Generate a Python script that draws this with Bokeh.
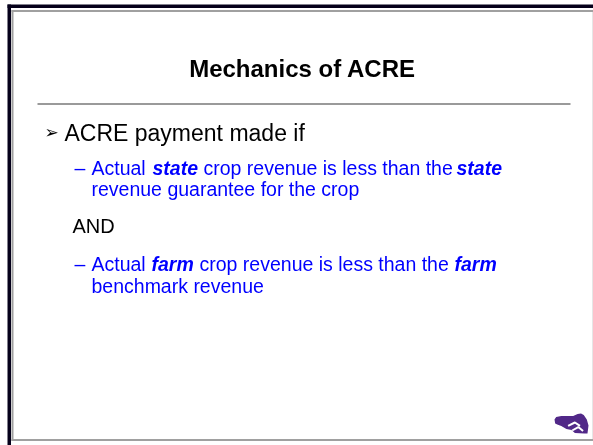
from bokeh.plotting import figure
from bokeh.models import Range1d, ColumnDataSource
from bokeh.core.properties import value
from bokeh.embed import file_html
from bokeh.resources import INLINE

# ---- slide content ----
title_text = "Mechanics of ACRE"
main_bullet = "ACRE payment made if"
sub1_segments = ["Actual", "state", "crop revenue is less than the", "state"]
sub1_styles = ["normal", "bold italic", "normal", "bold italic"]
sub1_line2 = "revenue guarantee for the crop"
connector = "AND"
sub2_segments = ["Actual", "farm", "crop revenue is less than the", "farm"]
sub2_styles = ["normal", "bold italic", "normal", "bold italic"]
sub2_line2 = "benchmark revenue"

FONT = value("Liberation Sans")
BLUE = "#0000FF"
SUB = "19.5px"

p = figure(width=593, height=445, x_range=Range1d(0, 593), y_range=Range1d(445, 0),
           output_backend="svg", toolbar_location=None, min_border=0,
           x_axis_location=None, y_axis_location=None)
p.grid.visible = False
p.outline_line_color = None
p.background_fill_color = "white"
p.border_fill_color = "white"
p.styles = {"position": "fixed", "left": "0px", "top": "0px"}

# ---- frame ----
p.quad(left=[7], right=[10.5], top=[4], bottom=[445], fill_color="#05001a", line_color=None)
p.quad(left=[7], right=[593], top=[4], bottom=[7.5], fill_color="#05001a", line_color=None)
p.quad(left=[11], right=[13], top=[9.5], bottom=[440.5], fill_color="#a0a0a0", line_color=None)
p.quad(left=[11], right=[593], top=[9.5], bottom=[11.5], fill_color="#a0a0a0", line_color=None)
p.quad(left=[11], right=[593], top=[438.5], bottom=[440.5], fill_color="#a0a0a0", line_color=None)
p.quad(left=[591.5], right=[593], top=[11.5], bottom=[438.5], fill_color="#e6e6e6", line_color=None)

# title + rule
p.text(x=[302], y=[68], text=[title_text], text_font=FONT, text_font_size="24px",
       text_font_style="bold", text_color="black", text_align="center", text_baseline="alphabetic")
p.segment(x0=[37], y0=[103.5], x1=[570], y1=[103.5], line_color="#9a9a9a", line_width=2)

# main bullet
p.text(x=[44], y=[131], text=["\u27a2"], text_font=value("DejaVu Sans"), text_font_size="17px",
       text_color="black", text_baseline="alphabetic")
p.text(x=[64], y=[132], text=[main_bullet], text_font=FONT, text_font_size="23px",
       text_color="black", text_baseline="alphabetic")

# sub bullet 1
y1, y1b = 167, 188
seg_x1 = [91, 152, 203, 456]
p.text(x=[74], y=[y1], text=["\u2013"], text_font=FONT, text_font_size=SUB,
       text_color=BLUE, text_baseline="alphabetic")
src1 = ColumnDataSource(dict(x=seg_x1, y=[y1] * 4, t=sub1_segments, s=sub1_styles))
p.text(x="x", y="y", text="t", text_font_style="s", source=src1, text_font=FONT,
       text_font_size=SUB, text_color=BLUE, text_baseline="alphabetic")
p.text(x=[91], y=[y1b], text=[sub1_line2], text_font=FONT, text_font_size=SUB,
       text_color=BLUE, text_baseline="alphabetic")

# AND
p.text(x=[72], y=[225], text=[connector], text_font=FONT, text_font_size="20px",
       text_color="black", text_baseline="alphabetic")

# sub bullet 2
y2, y2b = 263, 285
seg_x2 = [91, 151, 199, 454]
p.text(x=[74], y=[y2], text=["\u2013"], text_font=FONT, text_font_size=SUB,
       text_color=BLUE, text_baseline="alphabetic")
src2 = ColumnDataSource(dict(x=seg_x2, y=[y2] * 4, t=sub2_segments, s=sub2_styles))
p.text(x="x", y="y", text="t", text_font_style="s", source=src2, text_font=FONT,
       text_font_size=SUB, text_color=BLUE, text_baseline="alphabetic")
p.text(x=[91], y=[y2b], text=[sub2_line2], text_font=FONT, text_font_size=SUB,
       text_color=BLUE, text_baseline="alphabetic")

# logo (decorative cat head, facing left)
cx, cy, w, h = 554, 413, 34, 20
ux = [0.0, 0.05, 0.2, 0.55, 0.68, 0.78, 0.86, 0.95, 1.0, 0.97, 0.88, 0.6, 0.5, 0.35, 0.2, 0.08, 0.02]
uy = [0.3, 0.18, 0.12, 0.12, 0.02, 0.0, 0.08, 0.3, 0.6, 1.0, 1.0, 0.98, 0.82, 0.78, 0.62, 0.55, 0.5]
p.patch([cx + u * w for u in ux], [cy + v * h for v in uy], fill_color="#512888", line_color=None)
p.multi_line([[cx + 0.4 * w, cx + 0.6 * w, cx + 0.75 * w], [cx + 0.52 * w, cx + 0.7 * w, cx + 0.84 * w]],
             [[cy + 0.62 * h, cy + 0.45 * h, cy + 0.62 * h], [cy + 0.85 * h, cy + 0.68 * h, cy + 0.88 * h]],
             line_color="white", line_width=2)

open("out.html", "w").write(file_html(p, INLINE))
